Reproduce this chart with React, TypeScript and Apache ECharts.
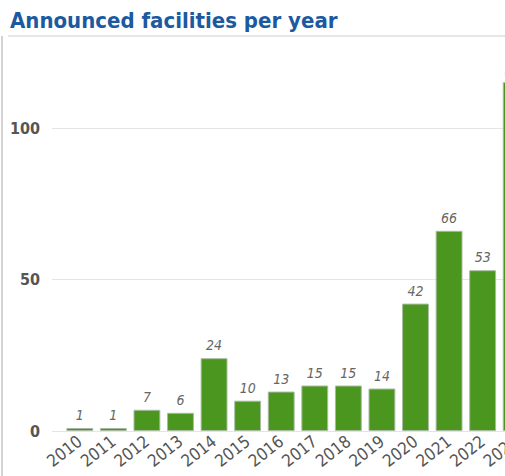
import React, { useEffect, useRef } from "react";
import * as echarts from "echarts";

const years = ["2010", "2011", "2012", "2013", "2014", "2015", "2016", "2017", "2018", "2019", "2020", "2021", "2022", "2023"];
const facilities = [1, 1, 7, 6, 24, 10, 13, 15, 15, 14, 42, 66, 53, 115];
const yTicks = [0, 50, 100];

const FONT = "'DejaVu Sans Condensed', 'Liberation Sans Narrow', sans-serif";

export default function App() {
  const ref = useRef<HTMLDivElement>(null);
  useEffect(() => {
    if (!ref.current) return;
    const chart = echarts.init(ref.current, undefined, { renderer: "svg" });
    chart.setOption({
      animation: false,
      backgroundColor: "#ffffff",
      title: {
        text: "Announced facilities per year",
        left: 5,
        top: 4,
        textStyle: { fontFamily: FONT, fontWeight: "bold", fontSize: 22, color: "#1b5aa0" },
      },
      graphic: [
        { type: "line", shape: { x1: 8, y1: 36, x2: 505, y2: 36 }, style: { stroke: "#e6e6e6", lineWidth: 2 } },
        { type: "line", shape: { x1: 2, y1: 36, x2: 2, y2: 476 }, style: { stroke: "#d4d4d4", lineWidth: 2 } },
      ],
      grid: [
        { left: 52, right: 0, top: 128, bottom: 45, outerBoundsMode: "none" },
        { left: 63, width: 470, top: 67, bottom: 45, outerBoundsMode: "none" },
      ],
      xAxis: [
        { gridIndex: 0, type: "value", min: 0, max: 1, show: false },
        {
          gridIndex: 1,
          type: "category",
          data: years,
          axisLine: { show: false },
          axisTick: { show: false },
          axisLabel: {
            rotate: 38,
            margin: 8,
            interval: 0,
            fontFamily: FONT,
            fontSize: 17,
            color: "#555555",
          },
        },
      ],
      yAxis: [
        {
          gridIndex: 0,
          type: "value",
          min: 0,
          max: 100,
          interval: 50,
          axisLine: { show: false },
          axisTick: { show: false },
          axisLabel: {
            margin: 12,
            fontFamily: FONT,
            fontWeight: "bold",
            fontSize: 16,
            color: "#555555",
            formatter: (v: number) => (yTicks.includes(v) ? String(v) : ""),
          },
          splitLine: { lineStyle: { color: "#e4e4e4", width: 1 } },
        },
        { gridIndex: 1, type: "value", min: 0, max: 120, show: false },
      ],
      series: [
        {
          type: "bar",
          xAxisIndex: 1,
          yAxisIndex: 1,
          data: facilities,
          barCategoryGap: "20%",
          itemStyle: { color: "#4a961e", borderColor: "#a9bba0", borderWidth: 1 },
          label: {
            show: true,
            position: "top",
            distance: 6,
            fontFamily: FONT,
            fontStyle: "italic",
            fontSize: 14,
            color: "#666666",
          },
        },
      ],
    });
    return () => chart.dispose();
  }, []);
  return <div ref={ref} style={{ position: "fixed", left: 0, top: 0, width: 505, height: 476 }} />;
}
